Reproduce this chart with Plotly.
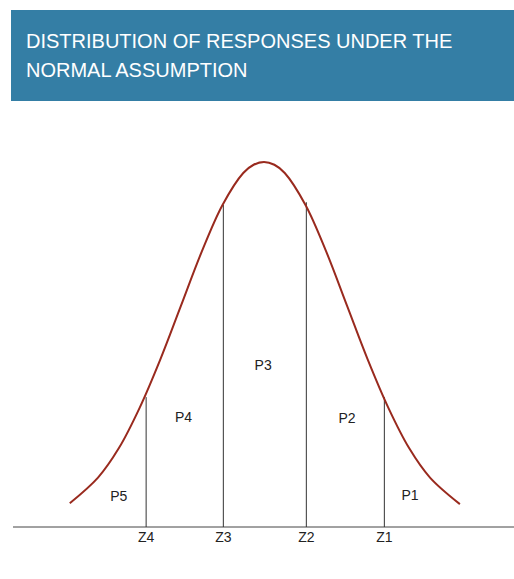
import plotly.graph_objects as go

# ---- data ----
curve_z = [-2.34, -2.0, -1.75, -1.5, -1.25, -1.0, -0.75, -0.5, -0.25, -0.125, 0.0,
           0.125, 0.25, 0.5, 0.75, 1.0, 1.25, 1.5, 1.75, 2.0, 2.36]
curve_d = [0.026, 0.054, 0.086, 0.130, 0.183, 0.242, 0.301, 0.352, 0.387, 0.396, 0.399,
           0.396, 0.387, 0.352, 0.301, 0.242, 0.183, 0.130, 0.086, 0.054, 0.025]

cut_labels = ["Z4", "Z3", "Z2", "Z1"]
cut_z = [-1.42, -0.49, 0.51, 1.45]
cut_d = [0.142, 0.352, 0.355, 0.142]

region_labels = ["P5", "P4", "P3", "P2", "P1"]
region_z = [-1.75, -0.97, -0.01, 1.00, 1.76]
region_d = [0.032, 0.119, 0.176, 0.118, 0.033]

title_lines = ["DISTRIBUTION OF RESPONSES UNDER THE", "NORMAL ASSUMPTION"]

FONT = "Liberation Sans, Arial, sans-serif"
W, H = 514, 579

fig = go.Figure()

# baseline axis
fig.add_trace(go.Scatter(x=[-3.024, 3.02], y=[0, 0], mode="lines",
                         line=dict(color="#444444", width=1), hoverinfo="skip"))

# vertical cut lines
for z, d in zip(cut_z, cut_d):
    fig.add_trace(go.Scatter(x=[z, z], y=[0, d], mode="lines",
                             line=dict(color="#333333", width=1), hoverinfo="skip"))

# normal curve
fig.add_trace(go.Scatter(x=curve_z, y=curve_d, mode="lines",
                         line=dict(color="#992a1e", width=2, shape="spline", smoothing=1.0),
                         hoverinfo="skip"))

# cut labels
fig.add_trace(go.Scatter(x=cut_z, y=[-0.0131] * len(cut_z), mode="text",
                         text=cut_labels, textposition="middle center",
                         textfont=dict(family=FONT, size=14, color="#222222"),
                         hoverinfo="skip"))

# region labels
fig.add_trace(go.Scatter(x=region_z, y=region_d, mode="text",
                         text=region_labels, textposition="middle center",
                         textfont=dict(family=FONT, size=14, color="#222222"),
                         hoverinfo="skip"))

# header box
fig.add_shape(type="rect", xref="paper", yref="paper",
              x0=11 / W, x1=1, y0=1 - 101 / H, y1=1 - 10 / H,
              fillcolor="#347ea5", line=dict(width=0), layer="above")

for line, ypx in zip(title_lines, [41, 70]):
    fig.add_annotation(xref="paper", yref="paper", x=24 / W, y=1 - ypx / H,
                       xanchor="left", yanchor="middle", text=line, showarrow=False,
                       font=dict(family=FONT, size=20, color="white"))

cx, cy = 264, 527   # curve centre / baseline in figure pixels
fig.update_layout(
    width=W, height=H,
    margin=dict(l=0, r=0, t=0, b=0),
    paper_bgcolor="white", plot_bgcolor="white",
    showlegend=False,
    hovermode=False,
    xaxis=dict(range=[-cx / 83, (W - cx) / 83], visible=False, fixedrange=True),
    yaxis=dict(range=[-(H - cy) / 914.8, cy / 914.8], visible=False, fixedrange=True),
)

fig.write_html("out.html",
               config={"displayModeBar": False, "staticPlot": True},
               post_script="document.body.style.margin='0';document.body.style.overflow='hidden';")
